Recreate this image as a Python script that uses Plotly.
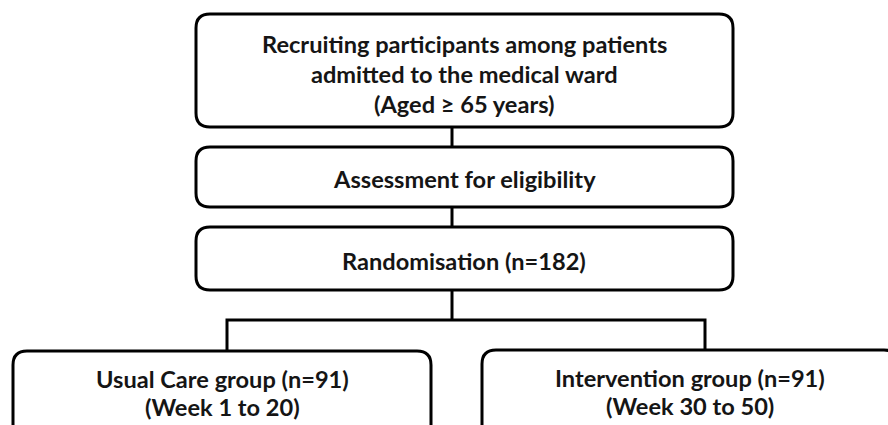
import plotly.graph_objects as go

# ---- content ----
box_lines = [
    ["Recruiting participants among patients", "admitted to the medical ward", "(Aged \u2265 65 years)"],
    ["Assessment for eligibility"],
    ["Randomisation (n=182)"],
    ["Usual Care group (n=91)", "(Week 1 to 20)"],
    ["Intervention group (n=91)", "(Week 30 to 50)"],
]

# ---- layout (pixel coords, y down) ----
box_x0 = [196, 196, 196, 13, 482]
box_x1 = [733, 733, 733, 431, 898]
box_y0 = [14, 147, 227, 351, 350]
box_y1 = [127, 207, 290, 440, 440]
box_closed = [True, True, True, False, False]
text_cx = [464, 464, 464, 222, 690]
text_ys = [[44, 74, 104], [179], [261], [379, 407], [378, 406]]

connectors = [
    [(452, 127), (452, 147)],
    [(452, 207), (452, 227)],
    [(452, 290), (452, 320)],
    [(227, 351), (227, 320), (705, 320), (705, 350)],
]

R = 14
LW = 3
LC = "#000000"
FONT = "Lato"
FS = 23.6


def rounded_path(x0, y0, x1, y1, r, closed):
    if closed:
        return (f"M {x0+r},{y0} H {x1-r} Q {x1},{y0} {x1},{y0+r} V {y1-r} "
                f"Q {x1},{y1} {x1-r},{y1} H {x0+r} Q {x0},{y1} {x0},{y1-r} "
                f"V {y0+r} Q {x0},{y0} {x0+r},{y0} Z")
    return (f"M {x0},{y1} V {y0+r} Q {x0},{y0} {x0+r},{y0} H {x1-r} "
            f"Q {x1},{y0} {x1},{y0+r} V {y1}")


fig = go.Figure()
shapes = []
for i in range(len(box_lines)):
    shapes.append(dict(type="path", xref="x", yref="y",
                       path=rounded_path(box_x0[i], box_y0[i], box_x1[i], box_y1[i], R, box_closed[i]),
                       line=dict(color=LC, width=LW),
                       fillcolor="white" if box_closed[i] else "rgba(0,0,0,0)",
                       layer="above"))
for pts in connectors:
    p = "M " + " L ".join(f"{x},{y}" for x, y in pts)
    shapes.append(dict(type="path", xref="x", yref="y", path=p,
                       line=dict(color=LC, width=LW), layer="above"))

annotations = []
for i, lines in enumerate(box_lines):
    for t, y in zip(lines, text_ys[i]):
        annotations.append(dict(x=text_cx[i], y=y, xref="x", yref="y", text=f"<b>{t}</b>",
                                showarrow=False, xanchor="center", yanchor="middle",
                                font=dict(family=FONT, size=FS, color="#151515")))

fig.add_trace(go.Scatter(x=[0, 888], y=[0, 425], mode="markers", marker=dict(opacity=0),
                         hoverinfo="skip", showlegend=False))
fig.update_layout(width=888, height=425, margin=dict(l=0, r=0, t=0, b=0),
                  paper_bgcolor="white", plot_bgcolor="white",
                  shapes=shapes, annotations=annotations, showlegend=False,
                  xaxis=dict(range=[0, 888], visible=False, fixedrange=True),
                  yaxis=dict(range=[425, 0], visible=False, fixedrange=True))
fig.write_html("out.html", config={"displayModeBar": False},
               post_script="document.body.style.margin='0';document.body.style.padding='0';"
                           "document.body.style.overflow='hidden';")
